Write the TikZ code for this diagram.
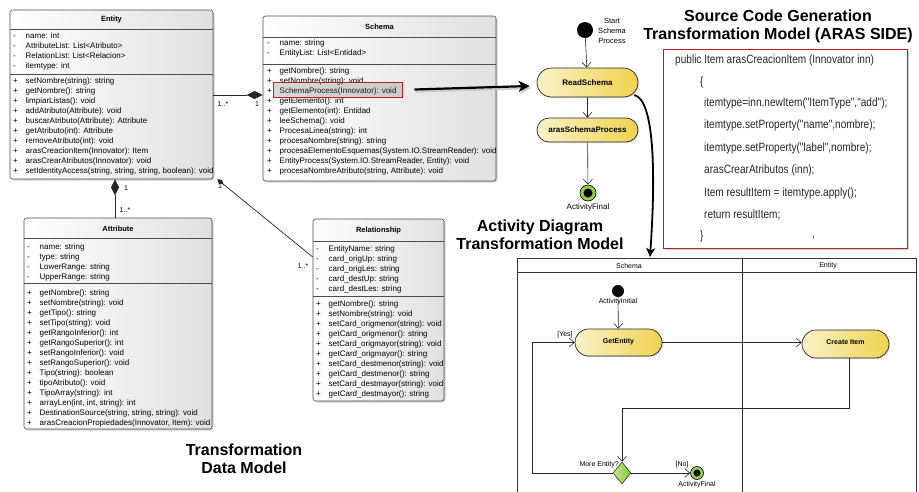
\documentclass[tikz,border=0pt]{standalone}
\usepackage{fontspec}
\setmainfont{Liberation Sans}
\newfontfamily\codefont{Liberation Sans}[FakeStretch=0.84]
\usetikzlibrary{arrows.meta,shapes.geometric,shapes.misc,shadows,fit,calc}
\definecolor{yl1}{RGB}{250,242,200}
\definecolor{yl2}{RGB}{240,210,80}
\definecolor{gr1}{RGB}{200,235,140}
\definecolor{gr2}{RGB}{130,195,55}
\definecolor{codered}{RGB}{200,25,35}
\newcommand\mbrs[1]{{\fontsize{8}{10}\selectfont\begin{tabular}{@{}p{12.5pt}@{}l@{}}#1\end{tabular}}}
\tikzset{
  cls/.style={draw=black!70, line width=0.6pt, rounded corners=2.5pt, left color=white, right color=black!12,
    drop shadow={shadow xshift=1.5pt, shadow yshift=-1.5pt, opacity=0.3, fill=black!60}, inner sep=0pt},
  sepl/.style={draw=black!70, line width=0.6pt},
  ttl/.style={font=\fontsize{7.5}{9}\selectfont\bfseries, inner sep=0pt},
  mb/.style={anchor=north west, inner sep=0pt},
  mult/.style={font=\fontsize{7}{8}\selectfont, inner sep=0pt},
  assoc/.style={draw=black!85, line width=0.7pt},
  big/.style={line width=2.2pt, -{Stealth[length=11pt,width=11pt,inset=3pt]}},
  bigc/.style={line width=1.8pt, -{Stealth[length=9pt,width=9pt,inset=2.5pt]}},
  act/.style={draw=black!85, line width=0.6pt, -{Straight Barb[length=5pt,width=9pt]}},
  pill/.style={rounded rectangle, draw=black!85, line width=0.7pt, left color=yl1, right color=yl2, inner sep=0pt,
    drop shadow={shadow xshift=1pt, shadow yshift=-1pt, opacity=0.25, fill=black!60}},
  small/.style={font=\fontsize{7}{8}\selectfont, inner sep=0pt},
  smallb/.style={font=\fontsize{8}{9}\selectfont, inner sep=0pt},
  dec/.style={diamond, draw=black!80, line width=0.6pt, left color=gr1, right color=gr2, minimum width=18pt, minimum height=22pt, inner sep=0pt},
  fin/.style={circle, draw=black, line width=0.6pt, fill=gr2!85, inner sep=0pt},
  lane/.style={draw=black!80, line width=1pt},
  bigttl/.style={font=\fontsize{16}{18.5}\selectfont\bfseries, align=center, inner sep=0pt},
  codeln/.style={anchor=west, inner sep=0pt, font=\codefont\fontsize{12}{14}\selectfont, text=black!85},
}
\begin{document}
\begin{tikzpicture}[x=1pt,y=-1pt]
\useasboundingbox (0,0) rectangle (919,491);

% ---------------- Entity ----------------
\node[cls, fit={(10,10)(213,179)}] (entity) {};
\draw[sepl] (entity.west |- 0,29) -- (entity.east |- 0,29);
\draw[sepl] (entity.west |- 0,74) -- (entity.east |- 0,74);
\node[ttl] (entity-t) at (111.5,20) {Entity};
\node[mb] (entity-a) at (13,31.5) {\mbrs{- & name: int\\ - & AttributeList: List<Atributo>\\ - & RelationList: List<Relacion>\\ - & itemtype: int}};
\node[mb] (entity-m) at (13,76.5) {\mbrs{+ & setNombre(string): string\\ + & getNombre(): string\\ + & limpiarListas(): void\\ + & addAtributo(Attribute): void\\ + & buscarAtributo(Attribute): Attribute\\ + & getAtributo(int): Attribute\\ + & removeAtributo(int): void\\ + & arasCreacionItem(Innovator): Item\\ + & arasCrearAtributos(Innovator): void\\ + & setIdentityAccess(string, string, string, boolean): void}};

% ---------------- Schema ----------------
\node[cls, fit={(263,16)(496,181)}] (schema) {};
\draw[sepl] (schema.west |- 0,37) -- (schema.east |- 0,37);
\draw[sepl] (schema.west |- 0,64) -- (schema.east |- 0,64);
\node[ttl] (schema-t) at (379.5,27) {Schema};
\node[mb] (schema-a) at (267,38.5) {\mbrs{- & name: string\\ - & EntityList: List<Entidad>}};
\node[mb] (schema-m) at (267,66) {\mbrs{+ & getNombre(): string\\ + & setNombre(string): void\\ + & SchemaProcess(Innovator): void\\ + & getElemento(): int\\ + & getElemento(int): Entidad\\ + & leeSchema(): void\\ + & ProcesaLinea(string): int\\ + & procesaNombre(string): string\\ + & procesaElementoEsquemas(System.IO.StreamReader): void\\ + & EntityProcess(System.IO.StreamReader, Entity): void\\ + & procesaNombreAtributo(string, Attribute): void}};
\node[draw=codered, line width=1pt, fit={(273,82)(402,97)}, inner sep=0pt,
  drop shadow={shadow xshift=1pt, shadow yshift=-1pt, opacity=0.25, fill=black!60}] (sp) {};

% ---------------- Attribute ----------------
\node[cls, fit={(24,218)(212,429)}] (attr) {};
\draw[sepl] (attr.west |- 0,238) -- (attr.east |- 0,238);
\draw[sepl] (attr.west |- 0,283) -- (attr.east |- 0,283);
\node[ttl] (attr-t) at (118,229) {Attribute};
\node[mb] (attr-a) at (27,242.5) {\mbrs{- & name: string\\ - & type: string\\ - & LowerRange: string\\ - & UpperRange: string}};
\node[mb] (attr-m) at (27,288.5) {\mbrs{+ & getNombre(): string\\ + & setNombre(string): void\\ + & getTipo(): string\\ + & setTipo(string): void\\ + & getRangoInferior(): int\\ + & getRangoSuperior(): int\\ + & setRangoInferior(): void\\ + & setRangoSuperior(): void\\ + & Tipo(string): boolean\\ + & tipoAtributo(): void\\ + & TipoArray(string): int\\ + & arrayLen(int, int, string): int\\ + & DestinationSource(string, string, string): void\\ + & arasCreacionPropiedades(Innovator, Item): void}};

% ---------------- Relationship ----------------
\node[cls, fit={(313,219)(444,401)}] (rel) {};
\draw[sepl] (rel.west |- 0,241) -- (rel.east |- 0,241);
\draw[sepl] (rel.west |- 0,296) -- (rel.east |- 0,296);
\node[ttl] (rel-t) at (378.5,231) {Relationship};
\node[mb] (rel-a) at (316,244.5) {\mbrs{- & EntityName: string\\ - & card\_origUp: string\\ - & card\_origLes: string\\ - & card\_destUp: string\\ - & card\_destLes: string}};
\node[mb] (rel-m) at (316,299.5) {\mbrs{+ & getNombre(): string\\ + & setNombre(string): void\\ + & setCard\_origmenor(string): void\\ + & getCard\_origmenor(): string\\ + & setCard\_origmayor(string): void\\ + & getCard\_origmayor(): string\\ + & setCard\_destmenor(string): void\\ + & getCard\_destmenor(): string\\ + & setCard\_destmayor(string): void\\ + & getCard\_destmayor(): string}};

% ---------------- UML connectors ----------------
\draw[assoc, -{Diamond[length=16pt,width=8pt]}] (entity.east |- 0,95) -- (schema.west |- 0,95);
\node[mult] (m1) at (223,104) {1..*};
\node[mult] (m2) at (257,104) {1};
\draw[assoc, {Diamond[length=16pt,width=8pt]}-] (entity.south -| 115,0) -- (attr.north -| 115,0);
\node[mult] (m3) at (126,188) {1};
\node[mult] (m4) at (125,210) {1..*};
\draw[assoc, {Diamond[length=8pt,width=5pt]}-] ($(entity.south east)+(4,0)$) -- (rel.west |- 0,257);
\node[mult] (m5) at (220,186) {1};
\node[mult] (m6) at (303,266) {1..*};

% ---------------- Top activity ----------------
\node[circle, fill=black, minimum size=16pt, inner sep=0pt] (start) at (585,30) {};
\node[smallb, align=center, font=\fontsize{7.5}{10}\selectfont] (start-l) at (612,31) {Start\\Schema\\Process};
\node[pill, minimum width=101pt, minimum height=29pt, font=\fontsize{8}{9}\selectfont\bfseries] (read) at (587.5,82.5) {ReadSchema};
\node[pill, minimum width=101pt, minimum height=24pt, font=\fontsize{8}{9}\selectfont\bfseries] (aras) at (587.5,130) {arasSchemaProcess};
\node[fin, minimum size=16pt, path picture={\fill[black] (path picture bounding box.center) circle (4.5pt);}] (fin1) at (588,193) {};
\node[smallb] (fin1-l) at (588,207) {ActivityFinal};
\draw[act] (start) -- (read);
\draw[act] (read) -- (aras);
\draw[act] (aras) -- (fin1);

\draw[big, preaction={draw=black!20, line width=2.2pt, transform canvas={shift={(1.5pt,-2pt)}}}] ([xshift=12pt]sp.east) -- ([xshift=-7pt,yshift=-3.5pt]read.west);
\coordinate (cend) at (650,257);
\draw[bigc] ($(read.east)+(-4,12.5)$) .. controls (654,100) and (656,170) .. (cend);

% ---------------- Code box ----------------
\node[draw=codered, line width=1pt, fill=white, fit={(663,49)(907,248)}, inner sep=0pt,
  drop shadow={shadow xshift=2pt, shadow yshift=-2pt, opacity=0.3, fill=black!60}] (code) {};
\node[codeln] (c1) at (675,60) {public Item arasCreacionItem (Innovator inn)};
\node[codeln] (c2) at (700,82) {\{};
\node[codeln] (c3) at (704,103) {itemtype=inn.newItem("ItemType","add");};
\node[codeln] (c4) at (704,125) {itemtype.setProperty("name",nombre);};
\node[codeln] (c5) at (704,148) {itemtype.setProperty("label",nombre);};
\node[codeln] (c6) at (704,170) {arasCrearAtributos (inn);};
\node[codeln] (c7) at (704,193) {Item resultItem = itemtype.apply();};
\node[codeln] (c8) at (704,215) {return resultItem;};
\node[codeln] (c9) at (700,236) {\}};
\node[codeln] (c10) at (812,238) {,};

% ---------------- Titles ----------------
\node[bigttl] (t1) at (778,26.5) {Source Code Generation\\Transformation Model (ARAS SIDE)};
\node[bigttl] (t2) at (540,235) {Activity Diagram\\Transformation Model};
\node[bigttl] (t3) at (244,459) {Transformation\\Data Model};

% ---------------- Swimlanes ----------------
\node[inner sep=0pt, fit={(518,259)(916,497)}] (pool) {};
\draw[lane] (pool.south west) |- (pool.north east) -- (pool.south east);
\draw[lane] (pool.west |- 0,272) -- (pool.east |- 0,272);
\coordinate (divt) at (742,259);
\coordinate (divb) at (742,497);
\draw[lane] (divt) -- (divb);
\node[small] (lane1) at (629,265.5) {Schema};
\node[small] (lane2) at (828,265.5) {Entity};

\node[circle, fill=black, minimum size=12pt, inner sep=0pt] (init) at (618,291) {};
\node[small] (init-l) at (618,302) {ActivityInitial};
\node[pill, minimum width=87pt, minimum height=27pt, font=\fontsize{7}{8}\selectfont\bfseries] (get) at (618.5,342.5) {\raisebox{3pt}{GetEntity}};
\node[pill, minimum width=87pt, minimum height=28pt, font=\fontsize{7}{8}\selectfont\bfseries] (create) at (845.5,344) {\raisebox{3pt}{Create Item}};
\node[dec] (dec) at (622,473) {};
\node[fin, minimum size=13pt, path picture={\fill[black] (path picture bounding box.center) circle (3.5pt);}] (fin2) at (697,473) {};
\node[small] (fin2-l) at (697,484.5) {ActivityFinal};
\node[small, anchor=east] (more) at (619,465) {More Entity?};
\node[small] (no) at (682,465) {[No]};
\node[small] (yes) at (565,335) {[Yes]};

\draw[act] (init) -- (get);
\draw[act] (get.east) -- (get.east -| create.west);
\coordinate (turn) at (849,408);
\draw[act] (create.south -| turn) -- (turn) -| (dec.north);
\draw[act] (dec.west) -- ++(-80,0) |- (get.west);
\draw[act] (dec.east) -- (fin2.west);
\end{tikzpicture}
\end{document}
